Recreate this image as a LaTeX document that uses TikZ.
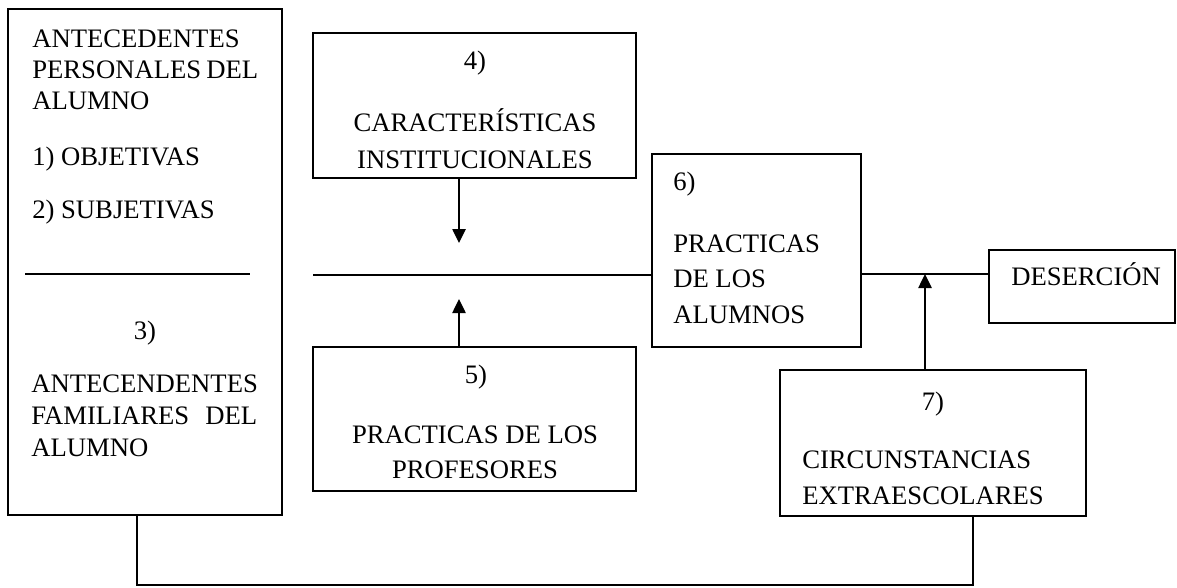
\documentclass[tikz,border=0pt]{standalone}
\usepackage{fontspec}
\setmainfont{Liberation Serif}
\usetikzlibrary{arrows.meta,fit}
\begin{document}
\begin{tikzpicture}[x=0.75pt,y=-0.75pt,
  box/.style={draw=black,line width=1.4pt,inner sep=0pt,fit={#1}},
  conn/.style={draw=black,line width=1.1pt},
  arr/.style={conn,-{Triangle[length=10.5pt,width=10pt]}},
  txt/.style={inner sep=0pt,font=\fontsize{20pt}{24pt}\selectfont},
  tl/.style={txt,anchor=base west},
  tc/.style={txt,anchor=base}]
\useasboundingbox (0,0) rectangle (1177,587);
% boxes
\node[box={(8,9) (282,515)}] (b1) {};
\node[box={(313,33) (636,178)}] (b4) {};
\node[box={(313,347) (636,491)}] (b5) {};
\node[box={(652,154) (861,347)}] (b6) {};
\node[box={(780,370) (1086,516)}] (b7) {};
\node[box={(989,250) (1175,323)}] (bD) {};
% separator in box 1
\draw[conn] (25,274) -- (250,274);
% texts box 1
\node[tl] (t1a) at (32,47) {ANTECEDENTES};
\node[tl] (t1b) at (32,78) {\hbox to 169.5pt{PERSONALES\hfill DEL}};
\node[tl] (t1c) at (32,109) {ALUMNO};
\node[tl] (t1d) at (32,165) {1) OBJETIVAS};
\node[tl] (t1e) at (32,218) {2) SUBJETIVAS};
\node[tc] (t3a) at (145,339) {3)};
\node[tl] (t3b) at (31,392) {ANTECENDENTES};
\node[tl] (t3c) at (31,424) {\hbox to 169.5pt{FAMILIARES\hfill DEL}};
\node[tl] (t3d) at (31,456) {ALUMNO};
% box 4
\node[tc] (t4a) at (475,69) {4)};
\node[tc] (t4b) at (475,131) {CARACTERÍSTICAS};
\node[tc] (t4c) at (475,168) {INSTITUCIONALES};
% box 5
\node[tc] (t5a) at (476,383) {5)};
\node[tc] (t5b) at (475,443) {PRACTICAS DE LOS};
\node[tc] (t5c) at (475,478) {PROFESORES};
% box 6
\node[tl] (t6a) at (673,190) {6)};
\node[tl] (t6b) at (673,252) {PRACTICAS};
\node[tl] (t6c) at (673,287) {DE LOS};
\node[tl] (t6d) at (673,323) {ALUMNOS};
% box 7
\node[tc] (t7a) at (933,410) {7)};
\node[tl] (t7b) at (802,468) {CIRCUNSTANCIAS};
\node[tl] (t7c) at (802,504) {EXTRAESCOLARES};
% desercion
\node[tl] (tD) at (1011,285) {DESERCIÓN};
% connectors
\coordinate (tip4) at (459,243);
\coordinate (tip5) at (459,299);
\coordinate (hl) at (313,275);
\coordinate (j) at (925,274);
\coordinate (lb) at (137,585);
\coordinate (rb) at (973,585);
\draw[arr] (b4.south -| tip4) -- (tip4);
\draw[arr] (b5.north -| tip5) -- (tip5);
\draw[conn] (hl) -- (hl -| b6.west);
\draw[conn] (b6.east |- j) -- (bD.west |- j);
\draw[arr] (b7.north -| j) -- (j);
\draw[conn] (b1.south -| lb) -- (lb) -- (rb) -- (b7.south -| rb);
\end{tikzpicture}
\end{document}
